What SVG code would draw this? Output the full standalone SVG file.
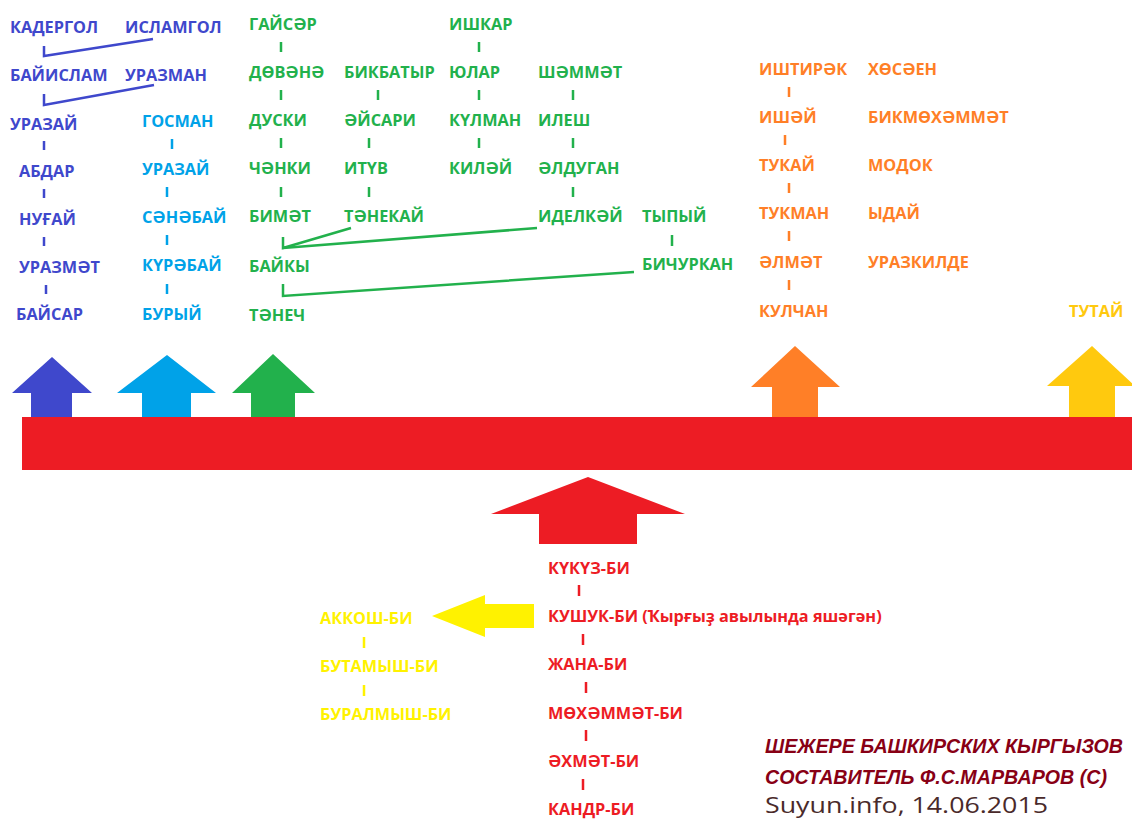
<svg xmlns="http://www.w3.org/2000/svg" width="1132" height="820" viewBox="0 0 1132 820">
<style>
text{font-family:"Open Sans","Liberation Sans",sans-serif;font-weight:bold;font-size:16.3px}
.b{fill:#3F48CC}.c{fill:#00A2E8}.g{fill:#22B14C}.o{fill:#FF7F27}.y{fill:#FFC90E}.r{fill:#ED1C24}.yy{fill:#FFF200}
.tb{stroke:#3F48CC}.tc{stroke:#00A2E8}.tg{stroke:#22B14C}.to{stroke:#FF7F27}.tr{stroke:#ED1C24}.ty{stroke:#FFF200}
#connectors line,#connectors polyline{stroke-width:2.5;fill:none}
.sig{font-family:"Liberation Sans",sans-serif;font-style:italic;font-size:20px;fill:#880015}
</style>
<rect width="1132" height="820" fill="#fff"/>
<g id="bar"><rect x="22" y="417" width="1110" height="53" fill="#ED1C24"/></g>
<g id="arrows">
<polygon points="52,357 92,393 72,393 72,417 31,417 31,393 12,393" fill="#3F48CC"/>
<polygon points="167,355 216,393 191,393 191,417 142,417 142,393 117,393" fill="#00A2E8"/>
<polygon points="273,354 315,393 295,393 295,417 251,417 251,393 232,393" fill="#22B14C"/>
<polygon points="795,346 840,387 818,387 818,417 772,417 772,387 751,387" fill="#FF7F27"/>
<polygon points="1092,346 1135,386 1115,386 1115,417 1069,417 1069,386 1047,386" fill="#FFC90E"/>
<polygon points="588,477 685,514 637,514 637,544 539,544 539,514 491,514" fill="#ED1C24"/>
<polygon points="432,616 485,595 485,604 534,604 534,628 485,628 485,637" fill="#FFF200"/>
</g>
<g id="connectors">
<polyline class="tb" points="44,46 44,56 153,39"/>
<polyline class="tb" points="44,94 44,105 154,85"/>
<line class="tb" x1="44" y1="141" x2="44" y2="150"/>
<line class="tb" x1="44" y1="189" x2="44" y2="198"/>
<line class="tb" x1="44" y1="237" x2="44" y2="246"/>
<line class="tb" x1="46" y1="285" x2="46" y2="294"/>
<line class="tc" x1="172" y1="139" x2="172" y2="149"/>
<line class="tc" x1="167" y1="187" x2="167" y2="197"/>
<line class="tc" x1="167" y1="235" x2="167" y2="245"/>
<line class="tc" x1="167" y1="284" x2="167" y2="294"/>
<line class="tg" x1="281" y1="42" x2="281" y2="52"/>
<line class="tg" x1="281" y1="90" x2="281" y2="100"/>
<line class="tg" x1="281" y1="138" x2="281" y2="148"/>
<line class="tg" x1="281" y1="187" x2="281" y2="197"/>
<polyline class="tg" points="283,237 283,248 351,228"/>
<line class="tg" x1="283" y1="248" x2="537" y2="228"/>
<polyline class="tg" points="283,284 283,296 634,272"/>
<line class="tg" x1="378" y1="90" x2="378" y2="100"/>
<line class="tg" x1="369" y1="138" x2="369" y2="148"/>
<line class="tg" x1="369" y1="187" x2="369" y2="197"/>
<line class="tg" x1="479" y1="42" x2="479" y2="52"/>
<line class="tg" x1="479" y1="90" x2="479" y2="100"/>
<line class="tg" x1="479" y1="138" x2="479" y2="148"/>
<line class="tg" x1="573" y1="90" x2="573" y2="100"/>
<line class="tg" x1="573" y1="138" x2="573" y2="148"/>
<line class="tg" x1="573" y1="187" x2="573" y2="197"/>
<line class="tg" x1="672" y1="235" x2="672" y2="246"/>
<line class="to" x1="789" y1="87" x2="789" y2="97"/>
<line class="to" x1="785" y1="135" x2="785" y2="145"/>
<line class="to" x1="789" y1="183" x2="789" y2="193"/>
<line class="to" x1="789" y1="231" x2="789" y2="241"/>
<line class="to" x1="789" y1="280" x2="789" y2="290"/>
<line class="tr" x1="579" y1="585" x2="579" y2="596"/>
<line class="tr" x1="583" y1="634" x2="583" y2="645"/>
<line class="tr" x1="586" y1="682" x2="586" y2="693"/>
<line class="tr" x1="586" y1="730" x2="586" y2="741"/>
<line class="tr" x1="583" y1="779" x2="583" y2="790"/>
<line class="ty" x1="364" y1="637" x2="364" y2="648"/>
<line class="ty" x1="364" y1="685" x2="364" y2="696"/>
</g>
<g id="blue1" class="b">
<text x="10" y="33">КАДЕРГОЛ</text>
<text x="10" y="81">БАЙИСЛАМ</text>
<text x="10" y="130">УРАЗАЙ</text>
<text x="19" y="177">АБДАР</text>
<text x="19" y="225">НУҒАЙ</text>
<text x="19" y="273">УРАЗМӘТ</text>
<text x="16" y="320">БАЙСАР</text>
</g>
<g id="blue2" class="b">
<text x="125" y="33">ИСЛАМГОЛ</text>
<text x="125" y="81">УРАЗМАН</text>
</g>
<g id="cyan" class="c">
<text x="142" y="127">ГОСМАН</text>
<text x="142" y="175">УРАЗАЙ</text>
<text x="142" y="223">СӘНӘБАЙ</text>
<text x="142" y="271">КҮРӘБАЙ</text>
<text x="142" y="320">БУРЫЙ</text>
</g>
<g id="green1" class="g">
<text x="249" y="30">ГАЙСӘР</text>
<text x="249" y="78">ДӨВӘНӘ</text>
<text x="249" y="126">ДУСКИ</text>
<text x="249" y="174">ЧӘНКИ</text>
<text x="249" y="222">БИМӘТ</text>
<text x="249" y="272">БАЙКЫ</text>
<text x="249" y="321">ТӘНЕЧ</text>
</g>
<g id="green2" class="g">
<text x="344" y="78">БИКБАТЫР</text>
<text x="344" y="126">ӘЙСАРИ</text>
<text x="344" y="174">ИТҮВ</text>
<text x="344" y="222">ТӘНЕКАЙ</text>
</g>
<g id="green3" class="g">
<text x="449" y="30">ИШКАР</text>
<text x="449" y="78">ЮЛАР</text>
<text x="449" y="126">КҮЛМАН</text>
<text x="449" y="174">КИЛӘЙ</text>
</g>
<g id="green4" class="g">
<text x="538" y="78">ШӘММӘТ</text>
<text x="538" y="126">ИЛЕШ</text>
<text x="538" y="174">ӘЛДУГАН</text>
<text x="538" y="222">ИДЕЛКӘЙ</text>
</g>
<g id="green5" class="g">
<text x="642" y="222">ТЫПЫЙ</text>
<text x="642" y="270">БИЧУРКАН</text>
</g>
<g id="orange1" class="o">
<text x="759" y="75">ИШТИРӘК</text>
<text x="759" y="123">ИШӘЙ</text>
<text x="759" y="171">ТУКАЙ</text>
<text x="759" y="219">ТУКМАН</text>
<text x="759" y="268">ӘЛМӘТ</text>
<text x="759" y="317">КУЛЧАН</text>
</g>
<g id="orange2" class="o">
<text x="868" y="75">ХӨСӘЕН</text>
<text x="868" y="123">БИКМӨХӘММӘТ</text>
<text x="868" y="171">МОДОК</text>
<text x="868" y="219">ЫДАЙ</text>
<text x="868" y="268">УРАЗКИЛДЕ</text>
</g>
<g id="tutay" class="y"><text x="1069" y="317">ТУТАЙ</text></g>
<g id="red" class="r">
<text x="548" y="574">КҮКҮЗ-БИ</text>
<text x="548" y="622">КУШУК-БИ (Ҡырғыҙ авылында яшәгән)</text>
<text x="548" y="670">ЖАНА-БИ</text>
<text x="548" y="719">МӨХӘММӘТ-БИ</text>
<text x="548" y="767">ӘХМӘТ-БИ</text>
<text x="548" y="815">КАНДР-БИ</text>
</g>
<g id="yellow" class="yy">
<text x="320" y="624">АККОШ-БИ</text>
<text x="320" y="672">БУТАМЫШ-БИ</text>
<text x="320" y="720">БУРАЛМЫШ-БИ</text>
</g>
<g id="signature">
<text class="sig" x="765" y="753" textLength="358" lengthAdjust="spacingAndGlyphs">ШЕЖЕРЕ БАШКИРСКИХ КЫРГЫЗОВ</text>
<text class="sig" x="765" y="784" textLength="342" lengthAdjust="spacingAndGlyphs">СОСТАВИТЕЛЬ Ф.С.МАРВАРОВ (С)</text>
<text x="765" y="813" textLength="283" lengthAdjust="spacingAndGlyphs" style="font-weight:normal;font-size:22px;fill:#4a2a2a">Suyun.info, 14.06.2015</text>
</g>
</svg>
